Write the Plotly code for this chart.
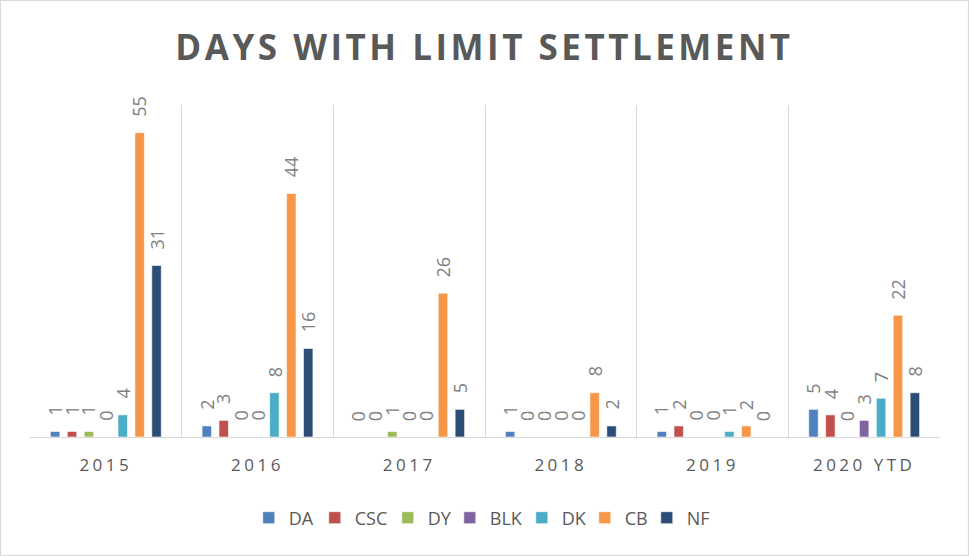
import plotly.graph_objects as go

categories = ["2015", "2016", "2017", "2018", "2019", "2020 YTD"]
series_names = ["DA", "CSC", "DY", "BLK", "DK", "CB", "NF"]
DA = [1, 2, 0, 1, 1, 5]
CSC = [1, 3, 0, 0, 2, 4]
DY = [1, 0, 1, 0, 0, 0]
BLK = [0, 0, 0, 0, 0, 3]
DK = [4, 8, 0, 0, 1, 7]
CB = [55, 44, 26, 8, 2, 22]
NF = [31, 16, 5, 2, 0, 8]
values = [DA, CSC, DY, BLK, DK, CB, NF]
colors = ["#4F81BD", "#C0504D", "#9BBB59", "#8064A2", "#4BACC6", "#F79646", "#2C4D75"]
legend_widths = [21, 28, 17, 27, 18, 17, 24]  # per-entry legend text widths (px)

W, H = 969, 556
L, R, T, B = 30, 29, 105, 119
pw, ph = W - L - R, H - T - B
BARGAP = 0.22
n = len(series_names)
slot = (1 - BARGAP) / n

fig = go.Figure()
annotations = []
for j, (name, vals, col, lw) in enumerate(zip(series_names, values, colors, legend_widths)):
    fig.add_trace(go.Bar(
        name=name, x=categories, y=vals, legendwidth=lw,
        marker=dict(color=col, line=dict(color="white", width=0.6)),
    ))
    # data labels placed at each bar's centre (category index + group offset)
    for i, v in enumerate(vals):
        annotations.append(dict(
            x=i - (1 - BARGAP) / 2 + slot * (j + 0.5), y=v, xref="x", yref="y",
            text=str(v), showarrow=False, textangle=-90,
            xanchor="center", yanchor="bottom", yshift=14,
            font=dict(family="Open Sans", size=18, color="#808080"),
        ))

fig.update_layout(
    width=W, height=H,
    margin=dict(l=L, r=R, t=T, b=B),
    paper_bgcolor="white", plot_bgcolor="white",
    barmode="group", bargap=BARGAP, bargroupgap=0.44,
    title=dict(text="<b>DAYS WITH LIMIT SETTLEMENT</b>", x=0.5, xanchor="center",
               y=1 - 48 / H, yanchor="middle",
               font=dict(family="Open Sans", size=35, color="#595959")),
    xaxis=dict(type="category", tickson="boundaries", showgrid=True, gridcolor="#D9D9D9",
               gridwidth=1.3, showline=True, linecolor="#D9D9D9", linewidth=1.3,
               ticks="", tickfont=dict(family="Open Sans", size=17, color="#595959"),
               ticklabelstandoff=12),
    yaxis=dict(range=[0, 60], visible=False, showgrid=False),
    legend=dict(orientation="h", x=0.497, xanchor="center", y=(437 - 518) / ph, yanchor="middle",
                font=dict(family="Open Sans", size=18, color="#595959"),
                itemwidth=30, traceorder="normal"),
    showlegend=True,
    annotations=annotations,
    shapes=[dict(type="rect", xref="paper", yref="paper",
                 x0=(0.5 - L) / pw, x1=(W - 0.5 - L) / pw,
                 y0=(437 - (H - 0.5)) / ph, y1=(437 - 0.5) / ph,
                 line=dict(color="#D9D9D9", width=1.2), fillcolor="rgba(0,0,0,0)", layer="below")],
)

post = """
document.body.style.margin = '0';
document.querySelectorAll('.gtitle').forEach(function(t){ t.style.letterSpacing = '3.5px'; });
document.querySelectorAll('.xtick text').forEach(function(t){ t.style.letterSpacing = '3.5px'; });
"""
fig.write_html("out.html", post_script=post, config={"displayModeBar": False})
